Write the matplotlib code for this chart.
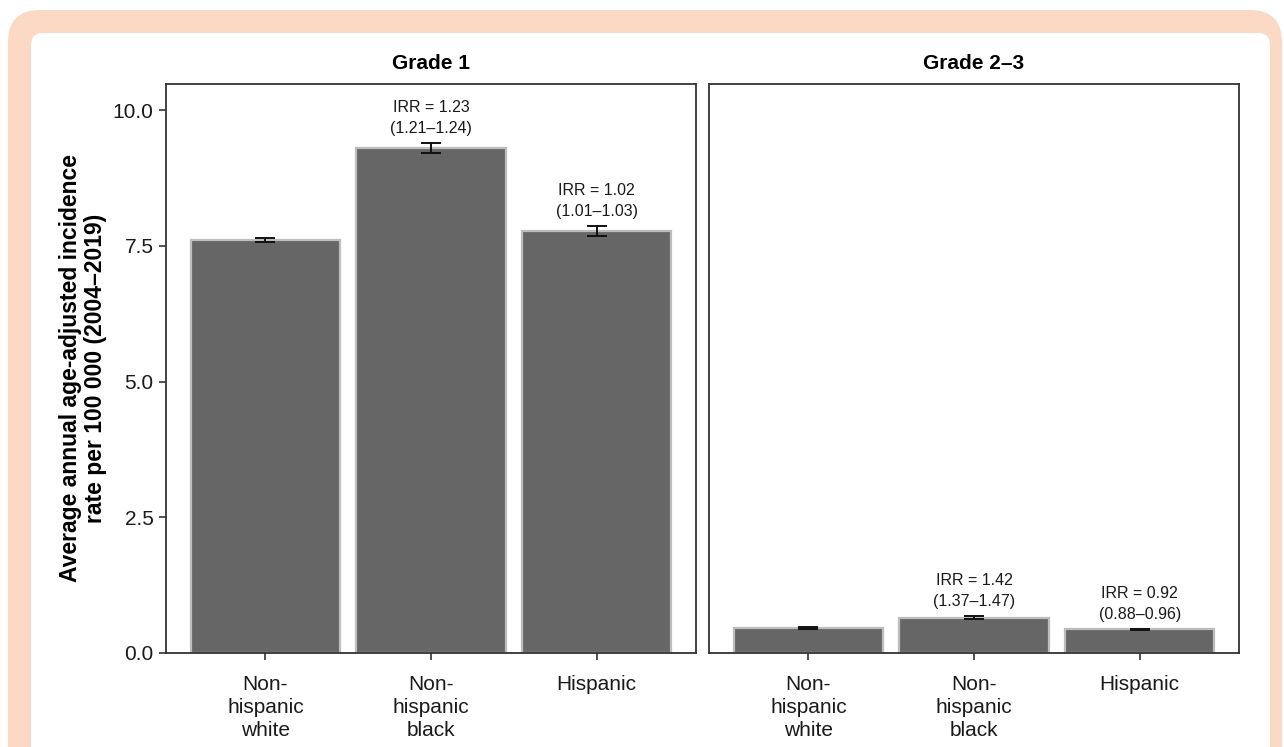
import matplotlib
matplotlib.use("Agg")
import matplotlib.pyplot as plt
from matplotlib.patches import FancyBboxPatch

plt.rcParams['font.family'] = ['Liberation Sans', 'DejaVu Sans']

# data
categories = ["Non-\nhispanic\nwhite", "Non-\nhispanic\nblack", "Hispanic"]
panels = ["Grade 1", "Grade 2\u20133"]

grade1_rate = [7.61, 9.30, 7.77]
grade1_lo = [7.57, 9.21, 7.68]
grade1_hi = [7.65, 9.39, 7.86]
grade1_irr = [None, "IRR = 1.23\n(1.21\u20131.24)", "IRR = 1.02\n(1.01\u20131.03)"]

grade23_rate = [0.46, 0.65, 0.44]
grade23_lo = [0.45, 0.62, 0.43]
grade23_hi = [0.47, 0.68, 0.45]
grade23_irr = [None, "IRR = 1.42\n(1.37\u20131.47)", "IRR = 0.92\n(0.88\u20130.96)"]

W, H = 1284, 747
fig = plt.figure(figsize=(W / 100, H / 100), dpi=100)

# peach frame with white rounded panel
bg = fig.add_axes([0, 0, 1, 1], zorder=-10)
bg.set_xlim(0, W)
bg.set_ylim(H, 0)
bg.axis("off")
bg.add_patch(FancyBboxPatch((8, 10), 1274, 800, boxstyle="round,pad=0,rounding_size=32",
                            fc="#FCD9C4", ec="none"))
bg.add_patch(FancyBboxPatch((31, 33), 1239, 800, boxstyle="round,pad=0,rounding_size=12",
                            fc="white", ec="none"))

x = list(range(len(categories)))
ymax = 10.48
ax1 = fig.add_axes([166 / W, 1 - 653 / H, 530 / W, 569 / H])
ax2 = fig.add_axes([709 / W, 1 - 653 / H, 530 / W, 569 / H])

series = [(ax1, grade1_rate, grade1_lo, grade1_hi, grade1_irr),
          (ax2, grade23_rate, grade23_lo, grade23_hi, grade23_irr)]

for i, (ax, rate, lo, hi, irr) in enumerate(series):
    ax.bar(x, rate, width=0.9, color="#666666", edgecolor="#BDBDBD", linewidth=1.6, zorder=2)
    err = [[r - l for r, l in zip(rate, lo)], [h - r for h, r in zip(hi, rate)]]
    ax.errorbar(x, rate, yerr=err, fmt="none", ecolor="#111111", elinewidth=1.4,
                capsize=7, capthick=1.4, zorder=3)
    for xi, h, lab in zip(x, hi, irr):
        if lab:
            ax.annotate(lab, (xi, h), xytext=(0, 5), textcoords="offset points",
                        ha="center", va="bottom", fontsize=11.5, color="#1a1a1a",
                        linespacing=1.5)
    ax.set_xlim(-0.6, 2.6)
    ax.set_ylim(0, ymax)
    ax.set_xticks(x)
    ax.set_xticklabels(categories, fontsize=15, color="#1a1a1a", linespacing=1.26)
    ax.tick_params(axis="x", length=5, width=1.2, color="#333333", pad=11)
    ax.set_title(panels[i], fontsize=15, fontweight="bold", pad=11)
    for s in ax.spines.values():
        s.set_color("#333333")
        s.set_linewidth(1.3)
    if i == 0:
        ax.set_yticks([0, 2.5, 5.0, 7.5, 10.0])
        ax.set_yticklabels(["0.0", "2.5", "5.0", "7.5", "10.0"], fontsize=15, color="#1a1a1a")
        ax.tick_params(axis="y", length=5, width=1.2, color="#333333", pad=4)
        ax.set_ylabel("Average annual age-adjusted incidence\nrate per 100 000 (2004\u20132019)",
                      fontsize=16.5, fontweight="bold", labelpad=4, linespacing=1.12)
    else:
        ax.set_yticks([])

fig.savefig("out.png", dpi=100, facecolor="white")
